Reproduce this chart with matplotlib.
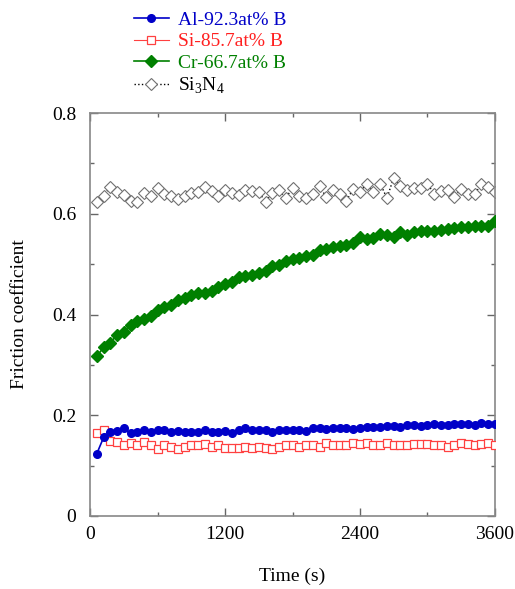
import numpy as np
import matplotlib
matplotlib.use("Agg")
import matplotlib.pyplot as plt

plt.rcParams["font.family"] = ["Liberation Serif", "DejaVu Serif"]
plt.rcParams["mathtext.fontset"] = "custom"
plt.rcParams["mathtext.rm"] = "Liberation Serif"

# sampling every 60 s over a 1 h sliding test
time_s = np.arange(60, 3601, 60)

al_b = [0.124, 0.156, 0.166, 0.168, 0.174, 0.164, 0.166, 0.170, 0.167, 0.170,
        0.170, 0.166, 0.168, 0.167, 0.166, 0.166, 0.170, 0.167, 0.167, 0.169,
        0.164, 0.170, 0.175, 0.170, 0.170, 0.170, 0.167, 0.170, 0.170, 0.170,
        0.170, 0.169, 0.175, 0.175, 0.172, 0.174, 0.175, 0.174, 0.172, 0.175,
        0.176, 0.176, 0.176, 0.179, 0.179, 0.176, 0.181, 0.180, 0.179, 0.180,
        0.182, 0.180, 0.181, 0.182, 0.182, 0.182, 0.181, 0.185, 0.182, 0.182]

si_b = [0.165, 0.170, 0.149, 0.146, 0.141, 0.144, 0.140, 0.146, 0.141, 0.133,
        0.140, 0.137, 0.133, 0.137, 0.140, 0.140, 0.142, 0.137, 0.140, 0.135,
        0.135, 0.135, 0.137, 0.135, 0.137, 0.135, 0.133, 0.137, 0.140, 0.140,
        0.137, 0.140, 0.140, 0.137, 0.144, 0.140, 0.141, 0.140, 0.144, 0.142,
        0.144, 0.140, 0.140, 0.144, 0.140, 0.140, 0.140, 0.142, 0.142, 0.142,
        0.140, 0.140, 0.137, 0.140, 0.144, 0.142, 0.140, 0.142, 0.144, 0.140]

cr_b = [0.317, 0.335, 0.344, 0.360, 0.366, 0.380, 0.387, 0.391, 0.398, 0.408,
        0.415, 0.418, 0.428, 0.432, 0.438, 0.442, 0.443, 0.446, 0.455, 0.461,
        0.464, 0.475, 0.476, 0.479, 0.483, 0.487, 0.496, 0.498, 0.506, 0.510,
        0.513, 0.517, 0.518, 0.528, 0.531, 0.535, 0.537, 0.538, 0.543, 0.553,
        0.550, 0.551, 0.560, 0.558, 0.554, 0.563, 0.558, 0.563, 0.565, 0.566,
        0.566, 0.568, 0.570, 0.572, 0.573, 0.574, 0.575, 0.575, 0.576, 0.586]

si3n4 = [0.624, 0.636, 0.654, 0.643, 0.637, 0.626, 0.623, 0.641, 0.636, 0.652,
         0.639, 0.636, 0.629, 0.636, 0.641, 0.643, 0.654, 0.646, 0.636, 0.648,
         0.641, 0.637, 0.647, 0.646, 0.643, 0.624, 0.641, 0.647, 0.631, 0.652,
         0.635, 0.631, 0.639, 0.655, 0.633, 0.648, 0.639, 0.626, 0.650, 0.644,
         0.659, 0.643, 0.660, 0.631, 0.672, 0.655, 0.647, 0.652, 0.652, 0.660,
         0.639, 0.646, 0.647, 0.633, 0.650, 0.639, 0.639, 0.659, 0.654, 0.644]

labels = ["Al-92.3at% B", "Si-85.7at% B", "Cr-66.7at% B", r"Si$_\mathrm{3}$N$_\mathrm{4}$"]
xticks = [0, 1200, 2400, 3600]
yticks = [0, 0.2, 0.4, 0.6, 0.8]
yticklabels = ["0", "0.2", "0.4", "0.6", "0.8"]

fig = plt.figure(figsize=(5.15, 5.89), dpi=100)
ax = fig.add_axes([0.175, 0.124, 0.786, 0.684])

l1, = ax.plot(time_s, al_b, "-o", color="#0000c8", lw=1.2, ms=5.5, zorder=4)
l2, = ax.plot(time_s, si_b, "-s", color="#ff4040", mfc="white", mec="#ff4040",
              lw=0.8, ms=5.5, mew=0.9, zorder=3)
l3, = ax.plot(time_s, cr_b, "-D", color="#008000", lw=1.2, ms=6.5, zorder=3)
l4, = ax.plot(time_s, si3n4, ":D", color="black", mfc="white", mec="#707070",
              lw=1.0, ms=6.5, mew=0.8, zorder=2)

ax.set_xlim(0, 3600)
ax.set_ylim(0, 0.8)
ax.set_xticks(xticks)
ax.set_xticklabels([str(t) for t in xticks])
ax.set_xticks([600, 1800, 3000], minor=True)
ax.set_yticks(yticks)
ax.set_yticklabels(yticklabels)
ax.set_yticks([0.1, 0.3, 0.5, 0.7], minor=True)

for sp in ax.spines.values():
    sp.set_color("#888888")
    sp.set_linewidth(1.2)
ax.tick_params(which="both", direction="in", top=True, right=True,
               color="#666666", labelsize=14)
ax.tick_params(which="major", length=6, width=1)
ax.tick_params(which="minor", length=3, width=1)
ax.tick_params(axis="x", pad=7)
ax.tick_params(axis="y", pad=10)

ax.set_xlabel("Time (s)", fontsize=14, labelpad=18)
ax.set_ylabel("Friction coefficient", fontsize=14, labelpad=17)

leg = fig.legend([l1, l2, l3, l4], labels, loc="upper left",
                 bbox_to_anchor=(0.245, 0.994), frameon=False, fontsize=14,
                 handlelength=1.8, handletextpad=0.45, labelspacing=0.2,
                 borderaxespad=0)
for txt, c in zip(leg.get_texts(), ["#0000c8", "#ff2020", "#008000", "black"]):
    txt.set_color(c)

fig.savefig("out.png", dpi=100)
